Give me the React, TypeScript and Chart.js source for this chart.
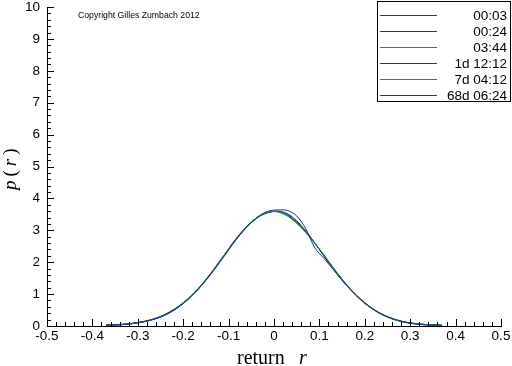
import React, { useEffect, useRef } from 'react';
import { Chart, registerables } from 'chart.js';

Chart.register(...registerables);

// ---- data ----
const xValues = [
  -0.37, -0.35, -0.33, -0.31, -0.29, -0.27, -0.25, -0.23, -0.21, -0.19,
  -0.17, -0.15, -0.13, -0.11, -0.09, -0.07, -0.05, -0.03, -0.01, 0.01,
  0.03, 0.05, 0.07, 0.09, 0.11, 0.13, 0.15, 0.17, 0.19, 0.21,
  0.23, 0.25, 0.27, 0.29, 0.31, 0.33, 0.35, 0.37,
];

const series0003 = [0.02, 0.03, 0.05, 0.08, 0.12, 0.19, 0.29, 0.42, 0.60, 0.83, 1.11, 1.44, 1.81, 2.20, 2.59, 2.95, 3.25, 3.47, 3.58, 3.58, 3.47, 3.25, 2.95, 2.59, 2.20, 1.81, 1.44, 1.11, 0.83, 0.60, 0.42, 0.29, 0.19, 0.12, 0.08, 0.05, 0.03, 0.02];
const series0024 = [0.02, 0.03, 0.05, 0.08, 0.13, 0.19, 0.28, 0.41, 0.59, 0.82, 1.10, 1.45, 1.83, 2.22, 2.62, 2.97, 3.26, 3.46, 3.57, 3.60, 3.52, 3.30, 2.98, 2.60, 2.19, 1.80, 1.43, 1.12, 0.84, 0.61, 0.42, 0.28, 0.18, 0.11, 0.07, 0.04, 0.03, 0.02];
const series0344 = [0.02, 0.03, 0.05, 0.09, 0.13, 0.20, 0.29, 0.43, 0.61, 0.84, 1.12, 1.45, 1.82, 2.21, 2.60, 2.96, 3.26, 3.47, 3.58, 3.57, 3.44, 3.22, 2.93, 2.58, 2.22, 1.84, 1.47, 1.13, 0.84, 0.61, 0.42, 0.28, 0.18, 0.11, 0.07, 0.04, 0.03, 0.02];
const series1d = [0.03, 0.04, 0.06, 0.09, 0.13, 0.19, 0.28, 0.42, 0.60, 0.83, 1.11, 1.43, 1.80, 2.20, 2.61, 2.96, 3.24, 3.45, 3.57, 3.59, 3.49, 3.27, 2.97, 2.60, 2.20, 1.80, 1.44, 1.12, 0.84, 0.61, 0.43, 0.29, 0.19, 0.12, 0.08, 0.05, 0.03, 0.02];
const series7d = [0.02, 0.03, 0.05, 0.08, 0.12, 0.19, 0.29, 0.43, 0.61, 0.83, 1.12, 1.46, 1.83, 2.22, 2.60, 2.95, 3.24, 3.46, 3.57, 3.58, 3.46, 3.23, 2.94, 2.60, 2.23, 1.84, 1.46, 1.12, 0.83, 0.60, 0.42, 0.28, 0.18, 0.12, 0.07, 0.05, 0.03, 0.02];
const series68d = [0.03, 0.04, 0.05, 0.08, 0.13, 0.20, 0.30, 0.44, 0.62, 0.85, 1.13, 1.44, 1.80, 2.18, 2.58, 2.94, 3.24, 3.48, 3.61, 3.64, 3.62, 3.45, 3.05, 2.45, 2.12, 1.78, 1.44, 1.13, 0.86, 0.62, 0.43, 0.29, 0.19, 0.12, 0.07, 0.04, 0.03, 0.02];

const seriesLabels = ['00:03', '00:24', '03:44', '1d 12:12', '7d 04:12', '68d 06:24'];
const seriesValues = [series0003, series0024, series0344, series1d, series7d, series68d];
const seriesColors = ['#c00000', '#2828a8', '#00a800', '#2828a8', '#00a800', '#2828a8'];

const xMin = -0.5;
const xMax = 0.5;
const xStep = 0.1;
const xMinorStep = 0.02;
const yMin = 0;
const yMax = 10;
const yStep = 1;
const yMinorStep = 0.2;

const copyrightText = 'Copyright Gilles Zumbach 2012';
const xTitleWord = 'return';
const titleVar = 'r';

const SANS = "'Liberation Sans', Arial, sans-serif";
const SERIF = "'Liberation Serif', 'Times New Roman', serif";

const minorTicksPlugin = {
  id: 'minorTicks',
  afterDraw(chart: any) {
    const { ctx, chartArea } = chart;
    const xs = chart.scales.x;
    const ys = chart.scales.y;
    ctx.save();
    ctx.fillStyle = '#000';
    const left = Math.round(chartArea.left);
    const bottom = Math.round(chartArea.bottom);
    const nx = Math.round((xMax - xMin) / xMinorStep);
    const perMajorX = Math.round(xStep / xMinorStep);
    for (let i = 0; i <= nx; i++) {
      const px = Math.round(xs.getPixelForValue(xMin + i * xMinorStep));
      const len = i % perMajorX === 0 ? 7 : 4;
      ctx.fillRect(px, bottom - len, 1, len);
    }
    const ny = Math.round((yMax - yMin) / yMinorStep);
    const perMajorY = Math.round(yStep / yMinorStep);
    for (let i = 0; i <= ny; i++) {
      const py = Math.round(ys.getPixelForValue(yMin + i * yMinorStep));
      const len = i % perMajorY === 0 ? 7 : 4;
      ctx.fillRect(left, py, len, 1);
    }
    ctx.restore();
  },
};

const decorPlugin = {
  id: 'decor',
  afterDraw(chart: any) {
    const { ctx, chartArea } = chart;
    ctx.save();
    ctx.fillStyle = '#000';

    // copyright
    ctx.font = `8.7px ${SANS}`;
    ctx.textAlign = 'left';
    ctx.textBaseline = 'middle';
    ctx.fillText(copyrightText, chartArea.left + 31, 16);

    // legend box
    ctx.fillRect(377, 1, 134, 1);
    ctx.fillRect(377, 101, 134, 1);
    ctx.fillRect(377, 1, 1, 101);
    ctx.fillRect(510, 1, 1, 101);
    ctx.font = `13.5px ${SANS}`;
    ctx.textAlign = 'right';
    ctx.textBaseline = 'middle';
    seriesLabels.forEach((lab, i) => {
      const y = 15 + i * 16;
      ctx.fillStyle = seriesColors[i];
      ctx.fillRect(380, y, 57, 1);
      ctx.fillStyle = '#000';
      ctx.fillText(lab, 507, y + 1);
    });

    // x title: "return r"
    ctx.fillStyle = '#000';
    ctx.textAlign = 'left';
    ctx.textBaseline = 'alphabetic';
    ctx.font = `20px ${SERIF}`;
    const cx = (chartArea.left + chartArea.right) / 2;
    ctx.fillText(xTitleWord, cx - 37, 364);
    ctx.font = `italic 20px ${SERIF}`;
    ctx.fillText(titleVar, cx + 25, 364);

    // y title: "p(r)"
    ctx.translate(16, 190);
    ctx.rotate(-Math.PI / 2);
    const parts: [string, boolean][] = [['p', true], ['(', false], [titleVar, true], [')', false]];
    let off = 0;
    parts.forEach(([t, it]) => {
      ctx.font = `${it ? 'italic ' : ''}19px ${SERIF}`;
      ctx.fillText(t, off, 0);
      off += ctx.measureText(t).width + 4;
    });
    ctx.restore();
  },
};

export default function App() {
  const ref = useRef<HTMLCanvasElement | null>(null);

  useEffect(() => {
    if (!ref.current) return;
    const n = seriesValues.length;
    const chart = new Chart(ref.current, {
      type: 'line',
      data: {
        datasets: seriesValues.map((vals, i) => ({
          label: seriesLabels[i],
          data: xValues.map((x, j) => ({ x, y: vals[j] })),
          borderColor: seriesColors[i],
          backgroundColor: seriesColors[i],
          borderWidth: 1,
          pointRadius: 0,
          tension: 0.3,
          fill: false,
          order: n - i,
        })),
      },
      options: {
        responsive: false,
        animation: false,
        devicePixelRatio: 1,
        layout: { padding: { top: 7, right: 11, left: 0, bottom: 0 } },
        plugins: {
          legend: { display: false },
          tooltip: { enabled: false },
        },
        scales: {
          x: {
            type: 'linear',
            min: xMin,
            max: xMax,
            grid: { display: false, drawTicks: false, tickLength: 0 },
            border: { display: true, color: '#000', width: 1 },
            ticks: {
              stepSize: xStep,
              color: '#000',
              padding: 2,
              maxRotation: 0,
              autoSkip: false,
              font: { family: SANS, size: 13.5 },
              callback: (v: any) => (Math.abs(v) < 1e-9 ? '0' : Number(v).toFixed(1)),
            },
            afterFit: (s: any) => {
              s.height = 40;
              s.paddingLeft = 0;
              s.paddingRight = 0;
            },
          },
          y: {
            type: 'linear',
            min: yMin,
            max: yMax,
            grid: { display: false, drawTicks: false, tickLength: 0 },
            border: { display: true, color: '#000', width: 1 },
            ticks: {
              stepSize: yStep,
              color: '#000',
              padding: 7,
              font: { family: SANS, size: 13.5 },
              callback: (v: any) => String(Math.round(v)),
            },
            afterFit: (s: any) => {
              s.width = 47;
              s.paddingTop = 0;
              s.paddingBottom = 0;
            },
          },
        },
      },
      plugins: [minorTicksPlugin, decorPlugin],
    } as any);
    return () => chart.destroy();
  }, []);

  return (
    <div style={{ position: 'absolute', left: 0, top: 0, width: 512, height: 366, background: '#fff' }}>
      <canvas ref={ref} width={512} height={366} style={{ display: 'block' }} />
    </div>
  );
}
